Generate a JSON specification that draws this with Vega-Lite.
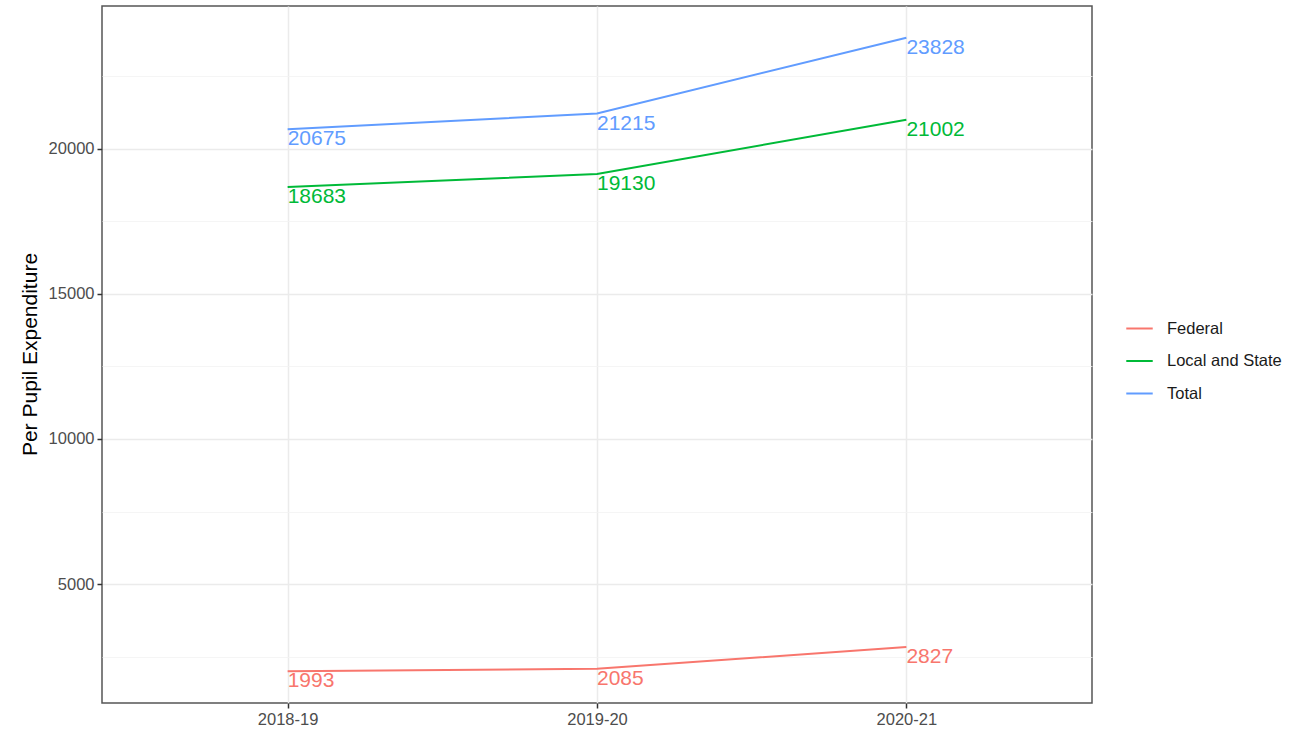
{
  "$schema": "https://vega.github.io/schema/vega-lite/v6.json",
  "width": 990,
  "height": 697,
  "autosize": {"type": "none"},
  "padding": {"left": 102, "top": 6, "right": 197, "bottom": 26},
  "background": "white",
  "config": {
    "font": "Liberation Sans",
    "view": {"stroke": "#555555", "strokeWidth": 1.5}
  },
  "data": {
    "values": [
      {"year": "2018-19", "series": "Federal", "value": 1993},
      {"year": "2019-20", "series": "Federal", "value": 2085},
      {"year": "2020-21", "series": "Federal", "value": 2827},
      {"year": "2018-19", "series": "Local and State", "value": 18683},
      {"year": "2019-20", "series": "Local and State", "value": 19130},
      {"year": "2020-21", "series": "Local and State", "value": 21002},
      {"year": "2018-19", "series": "Total", "value": 20675},
      {"year": "2019-20", "series": "Total", "value": 21215},
      {"year": "2020-21", "series": "Total", "value": 23828}
    ]
  },
  "encoding": {
    "x": {
      "field": "year",
      "type": "ordinal",
      "scale": {"type": "point", "padding": 0.6},
      "axis": {
        "title": null,
        "labelAngle": 0,
        "labelFontSize": 16.5,
        "labelColor": "#4d4d4d",
        "labelPadding": 3,
        "tickColor": "#333333",
        "tickSize": 5,
        "tickWidth": 1.5,
        "domain": false,
        "grid": true,
        "gridColor": "#ebebeb",
        "gridWidth": 1.5
      }
    },
    "y": {
      "field": "value",
      "type": "quantitative",
      "scale": {"domain": [901, 24920], "nice": false, "zero": false},
      "axis": {
        "title": "Per Pupil Expenditure",
        "titleFontSize": 21,
        "titleFontWeight": "normal",
        "titleColor": "black",
        "titleAngle": -90,
        "titleX": -72,
        "titleY": 348,
        "titleAlign": "center",
        "titleBaseline": "middle",
        "values": [2500, 5000, 7500, 10000, 12500, 15000, 17500, 20000, 22500],
        "format": "d",
        "labelExpr": "datum.value % 5000 === 0 ? datum.label : ''",
        "labelFontSize": 16.5,
        "labelColor": "#4d4d4d",
        "labelPadding": 3,
        "tickColor": "#333333",
        "tickSize": 5,
        "tickWidth": 1.5,
        "tickOpacity": {"condition": {"test": "datum.value % 5000 === 0", "value": 1}, "value": 0},
        "domain": false,
        "grid": true,
        "gridColor": {"condition": {"test": "datum.value % 5000 === 0", "value": "#ebebeb"}, "value": "#f3f3f3"},
        "gridWidth": {"condition": {"test": "datum.value % 5000 === 0", "value": 1.5}, "value": 0.8}
      }
    },
    "color": {
      "field": "series",
      "type": "nominal",
      "scale": {
        "domain": ["Federal", "Local and State", "Total"],
        "range": ["#F8766D", "#00BA38", "#619CFF"]
      },
      "legend": {
        "title": null,
        "orient": "none",
        "legendX": 1023,
        "legendY": 308,
        "padding": 0,
        "symbolType": "stroke",
        "symbolSize": 700,
        "symbolStrokeWidth": 2,
        "labelFontSize": 16.5,
        "labelColor": "#1a1a1a",
        "labelOffset": 13,
        "rowPadding": 9.5
      }
    }
  },
  "layer": [
    {"mark": {"type": "line", "strokeWidth": 2}},
    {
      "mark": {"type": "text", "align": "left", "baseline": "top", "fontSize": 21, "dy": -1},
      "encoding": {"text": {"field": "value", "type": "quantitative", "format": "d"}}
    }
  ]
}
